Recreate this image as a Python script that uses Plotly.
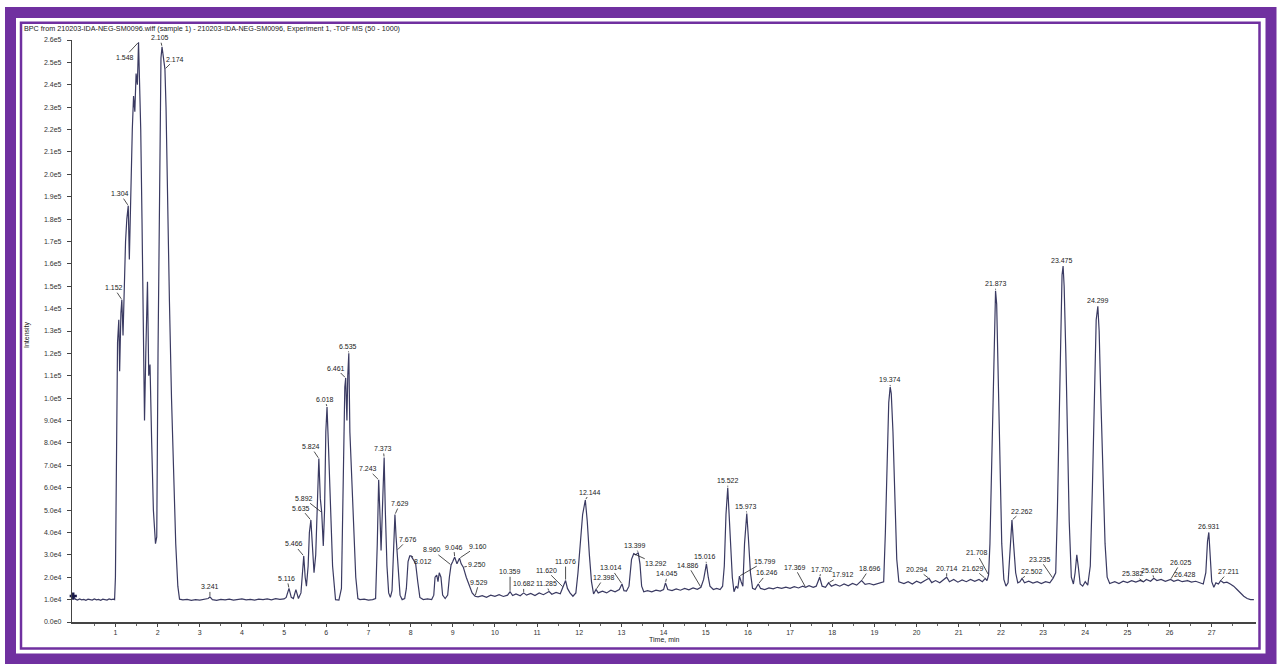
import numpy as np
import plotly.graph_objects as go

# ---------------- data ----------------
title_text = ("BPC from 210203-IDA-NEG-SM0096.wiff (sample 1) - 210203-IDA-NEG-SM0096, "
              "Experiment 1, -TOF MS (50 - 1000)")

# (time [min], intensity [cps]) segments of the base peak chromatogram
bpc_front = [
    (0.00, 1.16e4), (0.05, 1.02e4), (0.10, 0.98e4), (0.15, 1.03e4), (0.20, 0.99e4), (0.25, 1.01e4),
    (0.30, 0.97e4), (0.35, 1.02e4), (0.40, 1.00e4), (0.45, 0.98e4), (0.50, 1.03e4), (0.55, 0.99e4),
    (0.60, 1.01e4), (0.65, 0.97e4), (0.70, 1.02e4), (0.75, 1.00e4), (0.80, 0.98e4), (0.85, 1.03e4),
    (0.90, 1.00e4), (0.95, 1.02e4), (0.98, 1.00e4),
    (1.00, 2.0e4), (1.02, 6.0e4), (1.05, 1.25e5), (1.08, 1.35e5), (1.10, 1.12e5), (1.13, 1.38e5),
    (1.152, 1.44e5), (1.18, 1.28e5), (1.21, 1.55e5), (1.24, 1.70e5), (1.27, 1.80e5), (1.304, 1.86e5),
    (1.33, 1.62e5), (1.36, 1.95e5), (1.40, 2.20e5), (1.43, 2.35e5), (1.46, 2.28e5), (1.49, 2.45e5),
    (1.52, 2.40e5), (1.548, 2.59e5), (1.57, 2.45e5), (1.60, 2.20e5), (1.63, 1.80e5), (1.66, 1.20e5),
    (1.69, 9.0e4), (1.72, 1.20e5), (1.76, 1.52e5), (1.79, 1.10e5), (1.82, 1.15e5), (1.86, 8.0e4),
    (1.90, 5.0e4), (1.95, 3.5e4), (1.98, 3.8e4), (2.01, 1.20e5), (2.05, 2.20e5), (2.08, 2.52e5),
    (2.105, 2.57e5), (2.14, 2.52e5), (2.174, 2.47e5), (2.20, 2.30e5), (2.24, 1.80e5), (2.28, 1.44e5),
    (2.33, 1.00e5), (2.38, 6.5e4), (2.43, 3.5e4), (2.48, 1.6e4), (2.52, 1.02e4),
]
bpc_quiet = [
    (2.60, 0.99e4), (2.70, 1.01e4), (2.80, 0.97e4), (2.90, 1.00e4), (3.00, 0.98e4), (3.10, 1.02e4),
    (3.20, 1.05e4), (3.241, 1.12e4), (3.30, 1.00e4), (3.40, 0.97e4), (3.50, 1.01e4), (3.60, 0.99e4),
    (3.70, 1.02e4), (3.80, 0.98e4), (3.90, 1.00e4), (4.00, 1.03e4), (4.10, 0.99e4), (4.20, 1.01e4),
    (4.30, 0.98e4), (4.40, 1.02e4), (4.50, 1.00e4), (4.60, 1.03e4), (4.70, 0.99e4), (4.80, 1.04e4),
    (4.90, 1.01e4), (5.00, 1.03e4),
]
bpc_cluster = [
    (5.05, 1.10e4), (5.116, 1.50e4), (5.17, 1.10e4), (5.22, 1.05e4), (5.28, 1.45e4), (5.34, 1.05e4),
    (5.40, 1.30e4), (5.44, 2.50e4), (5.466, 2.95e4), (5.50, 2.00e4), (5.53, 1.60e4), (5.57, 2.50e4),
    (5.60, 4.00e4), (5.635, 4.55e4), (5.67, 3.50e4), (5.71, 2.20e4), (5.75, 3.00e4), (5.79, 6.00e4),
    (5.824, 7.30e4), (5.86, 5.50e4), (5.892, 4.90e4), (5.93, 3.40e4), (5.96, 5.00e4), (5.99, 8.50e4),
    (6.018, 9.60e4), (6.05, 8.00e4), (6.10, 5.00e4), (6.15, 2.50e4), (6.22, 1.00e4), (6.30, 0.98e4),
    (6.36, 1.50e4), (6.40, 7.00e4), (6.44, 1.05e5), (6.461, 1.09e5), (6.49, 9.00e4), (6.51, 1.10e5),
    (6.535, 1.20e5), (6.56, 8.50e4), (6.60, 6.50e4), (6.65, 4.00e4), (6.70, 2.00e4), (6.75, 1.05e4),
    (6.80, 1.00e4), (6.90, 1.02e4), (7.00, 0.98e4), (7.10, 1.00e4), (7.17, 1.05e4), (7.21, 3.50e4),
    (7.243, 6.35e4), (7.27, 5.00e4), (7.30, 3.20e4), (7.34, 5.50e4), (7.373, 7.35e4), (7.40, 5.00e4),
    (7.44, 2.50e4), (7.48, 1.30e4), (7.52, 1.10e4), (7.56, 1.40e4), (7.60, 3.50e4), (7.629, 4.80e4),
    (7.656, 3.80e4), (7.676, 3.20e4), (7.71, 2.00e4), (7.75, 1.20e4), (7.80, 1.00e4), (7.86, 1.05e4),
    (7.90, 1.50e4), (7.94, 2.70e4), (7.98, 2.95e4), (8.012, 2.95e4), (8.06, 2.80e4), (8.12, 2.60e4),
    (8.17, 1.80e4), (8.22, 1.10e4), (8.30, 1.00e4), (8.40, 1.03e4), (8.50, 1.00e4), (8.55, 1.20e4),
    (8.58, 2.00e4), (8.62, 2.10e4), (8.65, 1.80e4), (8.68, 2.20e4), (8.72, 2.00e4), (8.76, 1.20e4),
    (8.82, 1.05e4), (8.88, 1.20e4), (8.92, 2.00e4), (8.960, 2.55e4), (9.00, 2.70e4), (9.046, 2.90e4),
    (9.10, 2.60e4), (9.160, 2.85e4), (9.20, 2.60e4), (9.250, 2.45e4), (9.32, 2.00e4), (9.40, 1.60e4),
    (9.46, 1.30e4), (9.529, 1.15e4),
]
bpc_middle = [
    (9.60, 1.12e4), (9.70, 1.18e4), (9.80, 1.10e4), (9.90, 1.20e4), (10.00, 1.15e4), (10.10, 1.22e4),
    (10.20, 1.14e4), (10.30, 1.20e4), (10.359, 1.35e4), (10.42, 1.18e4), (10.50, 1.25e4), (10.60, 1.17e4),
    (10.682, 1.30e4), (10.75, 1.20e4), (10.85, 1.28e4), (10.95, 1.18e4), (11.05, 1.30e4), (11.15, 1.22e4),
    (11.25, 1.30e4), (11.285, 1.36e4), (11.35, 1.24e4), (11.45, 1.32e4), (11.55, 1.26e4), (11.620, 1.55e4),
    (11.676, 1.85e4), (11.72, 1.50e4), (11.78, 1.30e4), (11.85, 1.15e4), (11.92, 1.30e4), (11.97, 2.20e4),
    (12.02, 3.50e4), (12.08, 4.80e4), (12.144, 5.45e4), (12.19, 4.50e4), (12.24, 3.00e4), (12.29, 1.80e4),
    (12.34, 1.25e4), (12.398, 1.45e4), (12.45, 1.30e4), (12.55, 1.38e4), (12.65, 1.30e4), (12.75, 1.42e4),
    (12.85, 1.35e4), (12.95, 1.45e4), (13.014, 1.70e4), (13.06, 1.40e4), (13.12, 1.38e4), (13.18, 1.60e4),
    (13.24, 2.80e4), (13.292, 3.05e4), (13.34, 3.00e4), (13.399, 3.10e4), (13.44, 2.60e4), (13.48, 1.60e4),
    (13.53, 1.35e4), (13.62, 1.40e4), (13.72, 1.35e4), (13.82, 1.42e4), (13.92, 1.38e4), (14.00, 1.45e4),
    (14.045, 1.75e4), (14.10, 1.45e4), (14.20, 1.40e4), (14.30, 1.48e4), (14.40, 1.42e4), (14.50, 1.50e4),
    (14.60, 1.44e4), (14.70, 1.52e4), (14.80, 1.46e4), (14.886, 1.55e4), (14.95, 1.90e4), (15.016, 2.60e4),
    (15.06, 2.00e4), (15.10, 1.60e4), (15.18, 1.45e4), (15.26, 1.50e4), (15.34, 1.45e4), (15.40, 1.60e4),
    (15.44, 2.50e4), (15.48, 4.80e4), (15.522, 6.00e4), (15.56, 4.50e4), (15.59, 3.90e4), (15.63, 2.00e4),
    (15.67, 1.35e4), (15.72, 1.60e4), (15.76, 1.50e4), (15.799, 2.05e4), (15.84, 1.80e4), (15.88, 1.60e4),
    (15.92, 3.50e4), (15.973, 4.85e4), (16.01, 3.80e4), (16.06, 2.20e4), (16.11, 1.50e4), (16.17, 1.45e4),
    (16.246, 1.70e4), (16.30, 1.50e4), (16.40, 1.45e4), (16.50, 1.52e4), (16.60, 1.48e4), (16.70, 1.55e4),
    (16.80, 1.50e4), (16.90, 1.56e4), (17.00, 1.50e4), (17.10, 1.58e4), (17.20, 1.52e4), (17.30, 1.60e4),
    (17.369, 1.55e4), (17.45, 1.62e4), (17.55, 1.55e4), (17.62, 1.60e4), (17.702, 2.00e4), (17.76, 1.60e4),
    (17.84, 1.55e4), (17.912, 1.75e4), (17.98, 1.60e4), (18.08, 1.68e4), (18.18, 1.60e4), (18.28, 1.70e4),
    (18.38, 1.62e4), (18.48, 1.72e4), (18.58, 1.65e4), (18.696, 1.85e4), (18.78, 1.68e4), (18.88, 1.72e4),
    (18.98, 1.66e4), (19.06, 1.70e4), (19.14, 1.75e4),
]
bpc_late = [
    (19.22, 1.80e4), (19.26, 4.00e4), (19.30, 7.50e4), (19.34, 9.80e4), (19.374, 1.05e5), (19.40, 1.02e5),
    (19.44, 8.50e4), (19.48, 5.50e4), (19.53, 2.80e4), (19.58, 1.80e4), (19.70, 1.72e4), (19.80, 1.80e4),
    (19.90, 1.70e4), (20.00, 1.82e4), (20.10, 1.74e4), (20.20, 1.85e4), (20.294, 1.95e4), (20.36, 1.76e4),
    (20.45, 1.85e4), (20.55, 1.75e4), (20.65, 1.88e4), (20.714, 2.00e4), (20.78, 1.80e4), (20.88, 1.90e4),
    (20.98, 1.78e4), (21.08, 1.88e4), (21.18, 1.80e4), (21.28, 1.90e4), (21.38, 1.82e4), (21.48, 1.90e4),
    (21.56, 1.80e4), (21.629, 1.95e4), (21.67, 1.85e4), (21.708, 2.10e4), (21.74, 3.50e4), (21.78, 7.00e4),
    (21.82, 1.15e5), (21.85, 1.40e5), (21.873, 1.48e5), (21.90, 1.42e5), (21.94, 1.10e5), (21.98, 7.00e4),
    (22.02, 3.50e4), (22.07, 1.90e4), (22.12, 1.60e4), (22.17, 1.75e4), (22.21, 3.00e4), (22.262, 4.55e4),
    (22.30, 3.50e4), (22.35, 2.20e4), (22.40, 1.75e4), (22.45, 1.80e4), (22.502, 1.95e4), (22.56, 1.75e4),
    (22.66, 1.82e4), (22.76, 1.74e4), (22.86, 1.80e4), (22.96, 1.72e4), (23.06, 1.80e4), (23.16, 1.75e4),
    (23.235, 1.95e4), (23.30, 2.20e4), (23.34, 5.00e4), (23.38, 9.50e4), (23.42, 1.35e5), (23.45, 1.55e5),
    (23.475, 1.59e5), (23.50, 1.50e5), (23.54, 1.20e5), (23.58, 8.00e4), (23.62, 4.50e4), (23.67, 2.00e4),
    (23.72, 1.70e4), (23.76, 2.20e4), (23.80, 3.00e4), (23.84, 2.40e4), (23.88, 1.70e4), (23.94, 1.60e4),
    (24.00, 1.80e4), (24.06, 1.65e4), (24.12, 2.50e4), (24.17, 6.00e4), (24.22, 1.05e5), (24.26, 1.35e5),
    (24.299, 1.41e5), (24.33, 1.30e5), (24.37, 1.00e5), (24.42, 6.50e4), (24.47, 3.50e4), (24.52, 2.00e4),
    (24.58, 1.72e4), (24.70, 1.80e4), (24.80, 1.72e4), (24.90, 1.82e4), (25.00, 1.76e4), (25.10, 1.85e4),
    (25.20, 1.78e4), (25.30, 1.86e4), (25.382, 1.80e4), (25.45, 1.90e4), (25.55, 1.82e4), (25.626, 1.95e4),
    (25.70, 1.85e4), (25.80, 1.90e4), (25.90, 1.82e4), (26.025, 1.90e4), (26.10, 1.82e4), (26.20, 1.88e4),
    (26.30, 1.80e4), (26.428, 1.85e4), (26.52, 1.78e4), (26.62, 1.82e4), (26.72, 1.76e4), (26.80, 1.70e4),
    (26.86, 2.20e4), (26.90, 3.60e4), (26.931, 4.00e4), (26.96, 3.00e4), (27.00, 1.80e4), (27.05, 1.55e4),
    (27.10, 1.75e4), (27.16, 1.70e4), (27.211, 1.85e4), (27.28, 1.75e4), (27.36, 1.78e4), (27.44, 1.70e4),
    (27.52, 1.60e4), (27.60, 1.45e4), (27.68, 1.30e4), (27.76, 1.15e4), (27.84, 1.05e4), (27.92, 1.00e4),
    (28.00, 1.00e4),
]

peak_labels = ["1.152", "1.304", "1.548", "2.105", "2.174", "3.241", "5.116", "5.466", "5.635", "5.892",
               "5.824", "6.018", "6.461", "6.535", "7.243", "7.373", "7.629", "7.676", "8.012", "8.960",
               "9.046", "9.160", "9.250", "9.529", "10.359", "10.682", "11.285", "11.620", "11.676",
               "12.144", "12.398", "13.014", "13.399", "13.292", "14.045", "14.886", "15.016", "15.522",
               "15.973", "15.799", "16.246", "17.369", "17.702", "17.912", "18.696", "19.374", "20.294",
               "20.714", "21.708", "21.629", "21.873", "22.262", "22.502", "23.235", "23.475", "24.299",
               "25.382", "25.626", "26.025", "26.428", "26.931", "27.211"]

x_tick_values = list(range(1, 28))
y_tick_values = [i * 10000 for i in range(27)]
y_tick_text = ["0.0e0", "1.0e4", "2.0e4", "3.0e4", "4.0e4", "5.0e4", "6.0e4", "7.0e4", "8.0e4", "9.0e4",
               "1.0e5", "1.1e5", "1.2e5", "1.3e5", "1.4e5", "1.5e5", "1.6e5", "1.7e5", "1.8e5", "1.9e5",
               "2.0e5", "2.1e5", "2.2e5", "2.3e5", "2.4e5", "2.5e5", "2.6e5"]

# ---------------- styling / positions (pixel offsets of the labels) ----------------
label_offsets = [(-8, -12), (-8, -12), (-14, 15), (-2, -9), (10, -10), (0, -10), (-2, -10), (-10, -12),
                 (-10, -12), (-18, -14), (-8, -12), (-2, -8), (-10, -10), (-1, -7), (-11, -11), (-1, -9),
                 (5, -11), (11, -11), (12, 6), (-19, -15), (-1, -10), (18, -12), (14, -3), (4, -14),
                 (0, -20), (0, -9), (-3, -8), (-17, -17), (0, -19), (5, -8), (8, -12), (-11, -16),
                 (-3, -7), (22, 10), (2, -9), (-13, -22), (-1, -7), (0, -7), (-1, -7), (26, -15),
                 (9, -11), (-11, -20), (2, -8), (14, -8), (8, -12), (0, -7), (-12, -9), (0, -9),
                 (-12, -22), (-12, -10), (0, -7), (10, -9), (10, -7), (-13, -19), (-1, -6), (0, -6),
                 (-11, -8), (-2, -8), (10, -17), (-3, -6), (0, -6), (8, -9)]

W, H = 1279, 664
L, R, T, B = 72, 23, 40, 42
PW, PH = W - L - R, H - T - B
FONT = "Liberation Sans, Arial, sans-serif"
PURPLE = "#7030A0"
LINE = "#3a3a62"


def px(x):
    return (x - L) / PW


def py(y):
    return (H - B - y) / PH


points = bpc_front + bpc_quiet + bpc_cluster + bpc_middle + bpc_late
t = np.array([p[0] for p in points])
inten = np.array([p[1] for p in points])

fig = go.Figure()
fig.add_trace(go.Scatter(x=t, y=inten, mode="lines", line=dict(color=LINE, width=1.2),
                         hoverinfo="x+y", showlegend=False))
fig.add_trace(go.Scatter(x=t[:1], y=inten[:1], mode="markers", cliponaxis=False,
                         marker=dict(symbol="cross", size=6, color="#1a1a4a"), showlegend=False,
                         hoverinfo="skip"))

annotations = []
for lab, (ax, ay) in zip(peak_labels, label_offsets):
    tv = float(lab)
    yv = float(np.interp(tv, t, inten))
    annotations.append(dict(x=tv, y=yv, xref="x", yref="y", text=lab, showarrow=True,
                            arrowhead=0, arrowwidth=0.8, arrowcolor="#222222", ax=ax, ay=ay,
                            standoff=1, font=dict(family=FONT, size=7, color="#222222")))

annotations.append(dict(x=px(22), y=py(28), xref="paper", yref="paper", text=title_text,
                        showarrow=False, xanchor="left", yanchor="middle",
                        font=dict(family=FONT, size=7.2, color="#222222")))
annotations.append(dict(x=px(27), y=py(335), xref="paper", yref="paper", text="Intensity",
                        showarrow=False, textangle=-90, xanchor="center", yanchor="middle",
                        font=dict(family=FONT, size=7, color="#222222")))
annotations.append(dict(x=px(664), y=py(640), xref="paper", yref="paper", text="Time, min",
                        showarrow=False, xanchor="center", yanchor="middle",
                        font=dict(family=FONT, size=7, color="#222222")))

shapes = [
    dict(type="rect", xref="paper", yref="paper", x0=px(10.5), x1=px(1271), y0=py(659), y1=py(12.5),
         line=dict(color=PURPLE, width=11), layer="above"),
    dict(type="rect", xref="paper", yref="paper", x0=px(21), x1=px(1259.5), y0=py(648.5), y1=py(22.8),
         line=dict(color=PURPLE, width=2.5), layer="above"),
]

fig.update_layout(
    template="none",
    width=W, height=H,
    margin=dict(l=L, r=R, t=T, b=B, pad=0, autoexpand=False),
    paper_bgcolor="white", plot_bgcolor="white",
    font=dict(family=FONT, size=7, color="#333333"),
    annotations=annotations, shapes=shapes,
    showlegend=False,
    xaxis=dict(range=[-0.03, 28.05], tickvals=x_tick_values, ticks="outside", ticklen=3,
               tickcolor="#444444", showline=True, linecolor="#444444", linewidth=1.6,
               showgrid=False, zeroline=False, automargin=False,
               tickfont=dict(size=7, color="#333333"),
               minor=dict(ticks="outside", tick0=0.5, dtick=1, ticklen=2, tickcolor="#666666",
                          showgrid=False)),
    yaxis=dict(range=[0, 2.6e5], tickvals=y_tick_values, ticktext=y_tick_text, ticks="outside",
               ticklen=4, tickcolor="#444444", showline=True, linecolor="#444444", linewidth=1.2,
               showgrid=False, zeroline=False, automargin=False, ticklabelstandoff=4,
               tickfont=dict(size=7, color="#333333")),
)

fig.write_html("out.html", config={"displayModeBar": False},
               post_script="document.body.style.margin='0';document.body.style.overflow='hidden';")
